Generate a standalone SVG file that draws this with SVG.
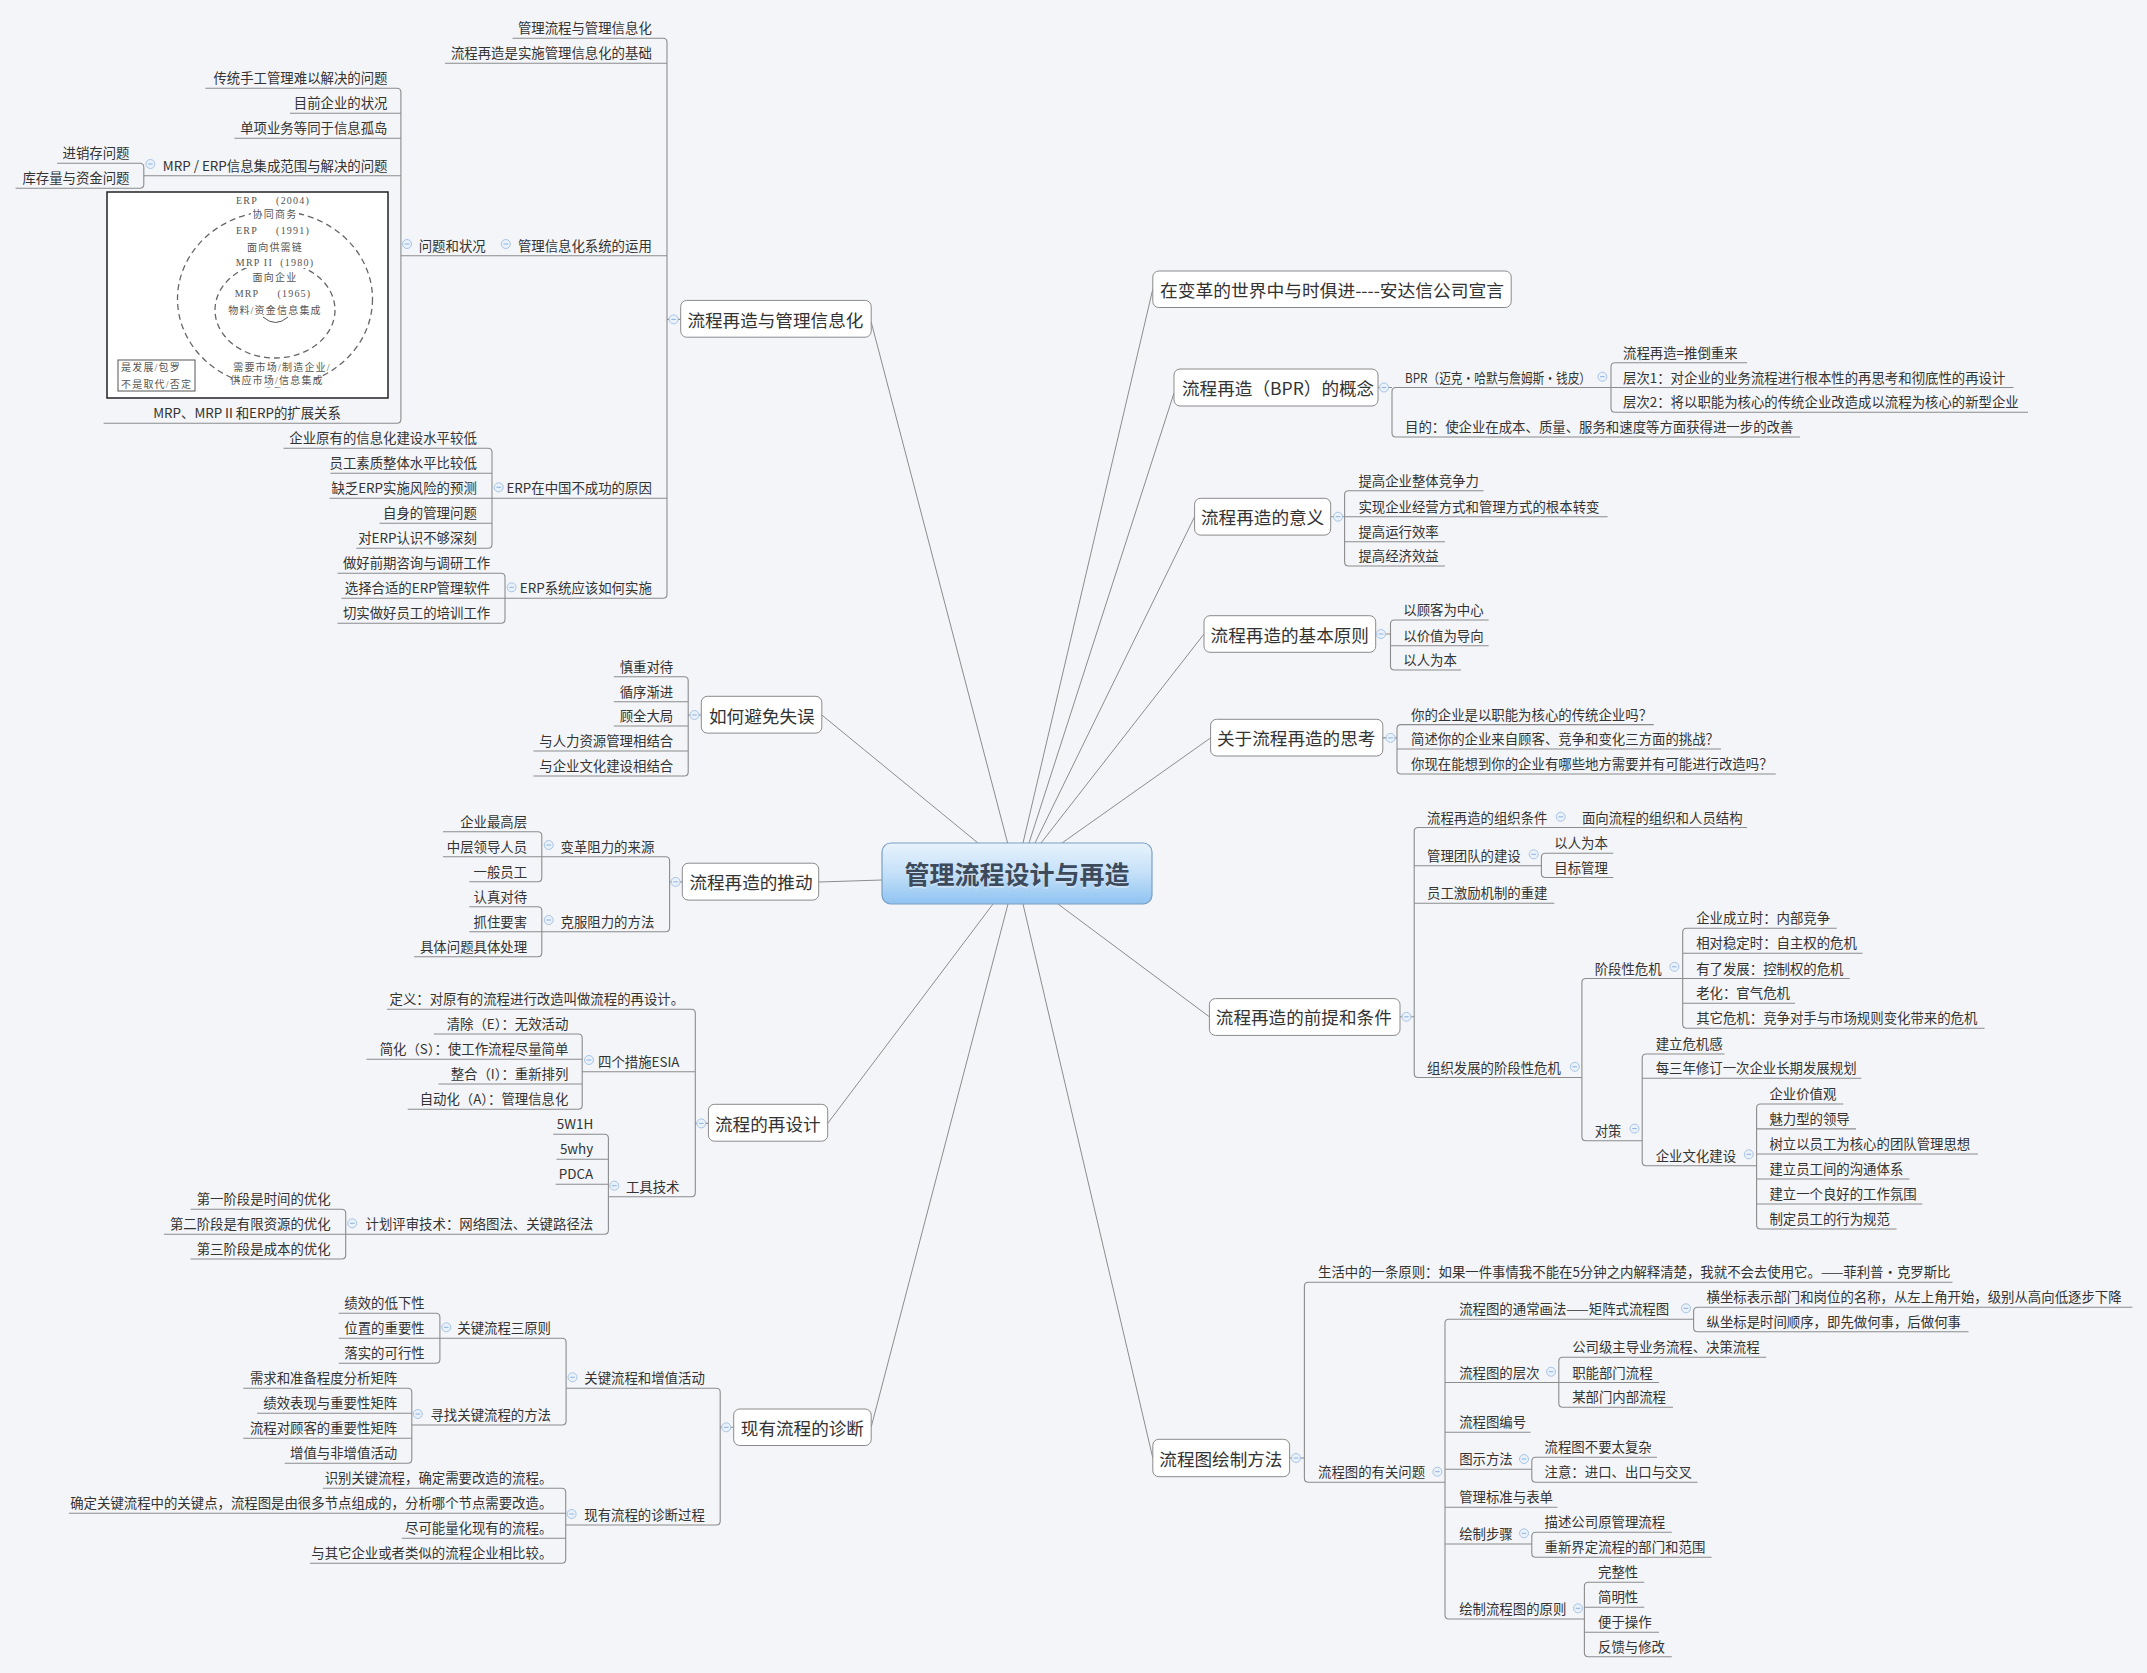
<svg xmlns="http://www.w3.org/2000/svg" xmlns:xlink="http://www.w3.org/1999/xlink" width="2147" height="1673" viewBox="0 0 2147 1673">
<style>
text{font-family:"Noto Sans CJK SC","Liberation Sans",sans-serif;fill:#333;dominant-baseline:central}
.s{font-size:13.4px}
.r{text-anchor:end}
.m{text-anchor:middle}
.b{font-size:17.6px}
.box{fill:#fff;stroke:#8a8a8a;stroke-width:1}
.ln{fill:none;stroke:#8c8c8c;stroke-width:1.1}
.cl{fill:none;stroke:#8c8c8c;stroke-width:1}
.im text{font-family:"Liberation Serif","Noto Sans CJK SC",serif;font-size:10px;fill:#555;white-space:pre;letter-spacing:1.2px}
</style>
<defs>
<linearGradient id="cg" x1="0" y1="0" x2="0" y2="1">
<stop offset="0" stop-color="#e8f3fd"/>
<stop offset="0.5" stop-color="#c4e0f8"/>
<stop offset="1" stop-color="#8fc3f1"/>
</linearGradient>
<g id="tg"><circle r="4.5" fill="#e9f1fb" stroke="#a9c4e4" stroke-width="1"/><path d="M-2.3,0H2.3" stroke="#8fb2dc" stroke-width="1"/></g>
</defs>
<rect width="2147" height="1673" fill="#f3f5f8"/>

<g id="connectors">
<g class="cl">
<path d="M978,843 L821.8,715"/>
<path d="M1007.6,843 L871.2,322"/>
<path d="M1023,843 L1152.8,289"/>
<path d="M1029,843 L1174,393"/>
<path d="M1035,843 L1194.6,516.7"/>
<path d="M1041,843 L1204,634"/>
<path d="M1062,843 L1210.6,737.9"/>
<path d="M882,880 L819,882"/>
<path d="M993,904 L827.7,1123.4"/>
<path d="M1008,904 L871.2,1427"/>
<path d="M1023,904 L1152.8,1458"/>
<path d="M1058,904 L1209.4,1016.8"/>
</g>
<g class="ln">
<path d="M1611,387.5 H1396 Q1392,387.5 1392,391.5 V433 Q1392,437 1396,437 H1800 M1378,387.5 H1392"/>
<path d="M1747,362.7 H1615 Q1611,362.7 1611,366.7 V408.3 Q1611,412.3 1615,412.3 H2028 M1611,387.5 H2013.5"/>
<path d="M1483.6,490.7 H1348.6 Q1344.6,490.7 1344.6,494.7 V562 Q1344.6,566 1348.6,566 H1445 M1330.7,516.7 H1607.6 M1344.6,541.7 H1445"/>
<path d="M1488.7,620 H1394.5 Q1390.5,620 1390.5,624 V666 Q1390.5,670 1394.5,670 H1461 M1390.5,645.7 H1488.7 M1375.7,634 H1390.5"/>
<path d="M1653.8,724.6 H1401 Q1397,724.6 1397,728.6 V770 Q1397,774 1401,774 H1775.8 M1397,749 H1721 M1382.8,737.9 H1397"/>
<path d="M1747,827.5 H1418.2 Q1414.2,827.5 1414.2,831.5 V1073.5 Q1414.2,1077.5 1418.2,1077.5 H1581.9 M1414.2,865.7 H1541.4 M1414.2,903.2 H1554.3 M1400,1016.8 H1414.2"/>
<path d="M1613.3,853.2 H1545.4 Q1541.4,853.2 1541.4,857.2 V873.5 Q1541.4,877.5 1545.4,877.5 H1613.3"/>
<path d="M1682.7,978.5 H1585.9 Q1581.9,978.5 1581.9,982.5 V1136.7 Q1581.9,1140.7 1585.9,1140.7 H1642.2"/>
<path d="M1836.8,928.2 H1686.7 Q1682.7,928.2 1682.7,932.2 V1024.2 Q1682.7,1028.2 1686.7,1028.2 H1984.6 M1682.7,953.2 H1862.5 M1682.7,978.5 H1849.7 M1682.7,1003.2 H1795"/>
<path d="M1724.5,1054 H1646.2 Q1642.2,1054 1642.2,1058 V1161.7 Q1642.2,1165.7 1646.2,1165.7 H1756.6 M1642.2,1078.2 H1861.3"/>
<path d="M1843.3,1104 H1760.6 Q1756.6,1104 1756.6,1108 V1225 Q1756.6,1229 1760.6,1229 H1896.6 M1756.6,1128.9 H1856 M1756.6,1154 H1978 M1756.6,1179 H1909.4 M1756.6,1204 H1922.3"/>
<path d="M1952.5,1282.3 H1308.4 Q1304.4,1282.3 1304.4,1286.3 V1478.3 Q1304.4,1482.3 1308.4,1482.3 H1445 M1289.6,1458 H1304.4"/>
<path d="M1693.6,1319.3 H1449 Q1445,1319.3 1445,1323.3 V1615 Q1445,1619 1449,1619 H1584.4 M1445,1382.5 H1558.8 M1445,1432.3 H1530.5 M1445,1469.3 H1531.8 M1445,1507.3 H1557.5 M1445,1544 H1531.8"/>
<path d="M2132.3,1307.3 H1697.6 Q1693.6,1307.3 1693.6,1311.3 V1327.7 Q1693.6,1331.7 1697.6,1331.7 H1968.5"/>
<path d="M1766.2,1357.3 H1562.8 Q1558.8,1357.3 1558.8,1361.3 V1403.3 Q1558.8,1407.3 1562.8,1407.3 H1673 M1558.8,1382.5 H1659"/>
<path d="M1657,1457.3 H1535.8 Q1531.8,1457.3 1531.8,1461.3 V1478.3 Q1531.8,1482.3 1535.8,1482.3 H1697.5"/>
<path d="M1671.8,1532.3 H1535.8 Q1531.8,1532.3 1531.8,1536.3 V1553.3 Q1531.8,1557.3 1535.8,1557.3 H1711.6"/>
<path d="M1644.2,1582.3 H1588.4 Q1584.4,1582.3 1584.4,1586.3 V1652.7 Q1584.4,1656.7 1588.4,1656.7 H1671.8 M1584.4,1607.3 H1644.2 M1584.4,1632.3 H1659"/>
<path d="M512.5,38.3 H663 Q667,38.3 667,42.3 V594.3 Q667,598.3 663,598.3 H505 M667,63.3 H445 M667,255.7 H400.9 M667,498.3 H492 M680.7,319.4 H667"/>
<path d="M205.4,88.3 H396.9 Q400.9,88.3 400.9,92.3 V419.3 Q400.9,423.3 396.9,423.3 H103.6 M400.9,113.3 H290 M400.9,138.3 H234.4 M400.9,175.7 H143.8"/>
<path d="M57,163.3 H139.8 Q143.8,163.3 143.8,167.3 V184.3 Q143.8,188.3 139.8,188.3 H15.6"/>
<path d="M283.5,448.3 H488 Q492,448.3 492,452.3 V544.3 Q492,548.3 488,548.3 H356.3 M492,473.3 H330.4 M492,498.3 H329.5 M492,523.3 H379.5"/>
<path d="M337.5,573.3 H501 Q505,573.3 505,577.3 V619.3 Q505,623.3 501,623.3 H337.5 M505,598.3 H341.5"/>
<path d="M613.8,676.7 H684.2 Q688.2,676.7 688.2,680.7 V772 Q688.2,776 684.2,776 H533.5 M688.2,701.7 H613.8 M688.2,726 H613.8 M688.2,751 H533.5 M701.3,715 H688.2"/>
<path d="M541.8,856.7 H665.6 Q669.6,856.7 669.6,860.7 V927.7 Q669.6,931.7 665.6,931.7 H541.8 M682.3,881.9 H669.6"/>
<path d="M443,831.7 H537.8 Q541.8,831.7 541.8,835.7 V877.7 Q541.8,881.7 537.8,881.7 H469.2 M541.8,856.7 H443"/>
<path d="M469.2,906.7 H537.8 Q541.8,906.7 541.8,910.7 V952.7 Q541.8,956.7 537.8,956.7 H414.1 M541.8,931.7 H469.2"/>
<path d="M387,1009.3 H691.3 Q695.3,1009.3 695.3,1013.3 V1192.7 Q695.3,1196.7 691.3,1196.7 H608.4 M695.3,1071.7 H582.2 M708.4,1123.4 H695.3"/>
<path d="M433.9,1034 H578.2 Q582.2,1034 582.2,1038 V1105.3 Q582.2,1109.3 578.2,1109.3 H407.7 M582.2,1059.3 H366.4 M582.2,1084 H438.5"/>
<path d="M553.3,1134.3 H604.4 Q608.4,1134.3 608.4,1138.3 V1230.3 Q608.4,1234.3 604.4,1234.3 H345.7 M608.4,1159.3 H556.5 M608.4,1184.3 H555.6"/>
<path d="M190.5,1209.3 H341.7 Q345.7,1209.3 345.7,1213.3 V1255 Q345.7,1259 341.7,1259 H190.5 M345.7,1234.3 H163.9"/>
<path d="M566.1,1388.3 H716.2 Q720.2,1388.3 720.2,1392.3 V1521 Q720.2,1525 716.2,1525 H565.7 M733.7,1427.3 H720.2"/>
<path d="M439.9,1338.3 H562.1 Q566.1,1338.3 566.1,1342.3 V1421 Q566.1,1425 562.1,1425 H411.8"/>
<path d="M338.8,1313.3 H435.9 Q439.9,1313.3 439.9,1317.3 V1359.3 Q439.9,1363.3 435.9,1363.3 H338.8 M439.9,1338.3 H338.8"/>
<path d="M243.3,1388.3 H407.8 Q411.8,1388.3 411.8,1392.3 V1459.3 Q411.8,1463.3 407.8,1463.3 H284.7 M411.8,1413.3 H257.1 M411.8,1438.3 H243.3"/>
<path d="M322.8,1488.3 H561.7 Q565.7,1488.3 565.7,1492.3 V1559.3 Q565.7,1563.3 561.7,1563.3 H309.9 M565.7,1513.3 H68.9 M565.7,1538.3 H401.7"/>
</g>
</g>

<g id="center">
<rect x="882" y="843" width="270" height="61" rx="9" fill="url(#cg)" stroke="#7a9fc4" stroke-width="1.2"/>
<text x="1017" y="874.5" class="m" style="font-size:25px;font-weight:bold;fill:#c9dff3">管理流程设计与再造</text>
<text x="1017" y="873" class="m" style="font-size:25px;font-weight:bold;fill:#3c4a5b">管理流程设计与再造</text>
</g>

<!-- right branches -->
<g id="b-andersen"><rect class="box" x="1152.8" y="271" width="358.4" height="36.5" rx="6"/><text class="b" x="1160" y="289.3" textLength="344" lengthAdjust="spacingAndGlyphs">在变革的世界中与时俱进----安达信公司宣言</text></g>

<g id="b-bpr"><rect class="box" x="1174" y="369" width="204" height="37" rx="6"/><text class="b" x="1182" y="387.5">流程再造（BPR）的概念</text><use href="#tg" x="1384" y="387.5"/></g>
<g id="n-bpr-def"><text class="s" x="1405" y="376.5" textLength="186" lengthAdjust="spacingAndGlyphs">BPR（迈克·哈默与詹姆斯·钱皮）</text><use href="#tg" x="1602.4" y="376.7"/></g>
<g id="n-bpr-1"><text class="s" x="1623" y="351.7">流程再造=推倒重来</text></g>
<g id="n-bpr-2"><text class="s" x="1623" y="376.5">层次1：对企业的业务流程进行根本性的再思考和彻底性的再设计</text></g>
<g id="n-bpr-3"><text class="s" x="1623" y="401.3">层次2：将以职能为核心的传统企业改造成以流程为核心的新型企业</text></g>
<g id="n-bpr-goal"><text class="s" x="1405" y="426">目的：使企业在成本、质量、服务和速度等方面获得进一步的改善</text></g>

<g id="b-meaning"><rect class="box" x="1194.6" y="498.3" width="136.1" height="36.8" rx="6"/><text class="b" x="1201" y="516.7">流程再造的意义</text><use href="#tg" x="1338" y="516.7"/></g>
<g id="n-meaning-1"><text class="s" x="1358.4" y="479.7">提高企业整体竞争力</text></g>
<g id="n-meaning-2"><text class="s" x="1358.4" y="505.7">实现企业经营方式和管理方式的根本转变</text></g>
<g id="n-meaning-3"><text class="s" x="1358.4" y="530.7">提高运行效率</text></g>
<g id="n-meaning-4"><text class="s" x="1358.4" y="555">提高经济效益</text></g>

<g id="b-principle"><rect class="box" x="1204" y="615.7" width="171.7" height="36.6" rx="6"/><text class="b" x="1210.6" y="634">流程再造的基本原则</text><use href="#tg" x="1381" y="634"/></g>
<g id="n-principle-1"><text class="s" x="1403.3" y="609">以顾客为中心</text></g>
<g id="n-principle-2"><text class="s" x="1403.3" y="634.7">以价值为导向</text></g>
<g id="n-principle-3"><text class="s" x="1403.3" y="659">以人为本</text></g>

<g id="b-think"><rect class="box" x="1210.6" y="719.3" width="172.2" height="36.7" rx="6"/><text class="b" x="1217" y="737.9">关于流程再造的思考</text><use href="#tg" x="1390.5" y="737.9"/></g>
<g id="n-think-1"><text class="s" x="1411" y="713.6">你的企业是以职能为核心的传统企业吗？</text></g>
<g id="n-think-2"><text class="s" x="1411" y="738">简述你的企业来自顾客、竞争和变化三方面的挑战？</text></g>
<g id="n-think-3"><text class="s" x="1411" y="763">你现在能想到你的企业有哪些地方需要并有可能进行改造吗？</text></g>

<g id="b-premise"><rect class="box" x="1209.4" y="998.6" width="190.6" height="36.8" rx="6"/><text class="b" x="1215.8" y="1016.8">流程再造的前提和条件</text><use href="#tg" x="1406.5" y="1016.8"/></g>
<g id="n-org"><text class="s" x="1427" y="816.5">流程再造的组织条件</text><use href="#tg" x="1560.7" y="816.8"/></g>
<g id="n-org-1"><text class="s" x="1581.9" y="816.5">面向流程的组织和人员结构</text></g>
<g id="n-team"><text class="s" x="1427" y="854.7">管理团队的建设</text><use href="#tg" x="1533.7" y="854.3"/></g>
<g id="n-team-1"><text class="s" x="1554.3" y="842.2">以人为本</text></g>
<g id="n-team-2"><text class="s" x="1554.3" y="866.5">目标管理</text></g>
<g id="n-incent"><text class="s" x="1427" y="892.2">员工激励机制的重建</text></g>
<g id="n-crisis"><text class="s" x="1427" y="1066.5">组织发展的阶段性危机</text><use href="#tg" x="1574.8" y="1066.8"/></g>
<g id="n-stage"><text class="s" x="1594.7" y="967.5">阶段性危机</text><use href="#tg" x="1674.4" y="966.8"/></g>
<g id="n-stage-1"><text class="s" x="1696.2" y="917.2">企业成立时：内部竞争</text></g>
<g id="n-stage-2"><text class="s" x="1696.2" y="942.2">相对稳定时：自主权的危机</text></g>
<g id="n-stage-3"><text class="s" x="1696.2" y="967.5">有了发展：控制权的危机</text></g>
<g id="n-stage-4"><text class="s" x="1696.2" y="992.2">老化：官气危机</text></g>
<g id="n-stage-5"><text class="s" x="1696.2" y="1017.2">其它危机：竞争对手与市场规则变化带来的危机</text></g>
<g id="n-measure"><text class="s" x="1594.7" y="1129.7">对策</text><use href="#tg" x="1634.5" y="1128.6"/></g>
<g id="n-measure-1"><text class="s" x="1655.7" y="1043">建立危机感</text></g>
<g id="n-measure-2"><text class="s" x="1655.7" y="1067.2">每三年修订一次企业长期发展规划</text></g>
<g id="n-culture"><text class="s" x="1655.7" y="1154.7">企业文化建设</text><use href="#tg" x="1748.8" y="1154.3"/></g>
<g id="n-culture-1"><text class="s" x="1769.4" y="1093">企业价值观</text></g>
<g id="n-culture-2"><text class="s" x="1769.4" y="1117.9">魅力型的领导</text></g>
<g id="n-culture-3"><text class="s" x="1769.4" y="1143">树立以员工为核心的团队管理思想</text></g>
<g id="n-culture-4"><text class="s" x="1769.4" y="1168">建立员工间的沟通体系</text></g>
<g id="n-culture-5"><text class="s" x="1769.4" y="1193">建立一个良好的工作氛围</text></g>
<g id="n-culture-6"><text class="s" x="1769.4" y="1218">制定员工的行为规范</text></g>

<g id="b-drawing"><rect class="box" x="1152.8" y="1439.3" width="136.8" height="37.4" rx="6"/><text class="b" x="1159.3" y="1458.3">流程图绘制方法</text><use href="#tg" x="1296" y="1458"/></g>
<g id="n-quote"><text class="s" x="1318" y="1271.3">生活中的一条原则：如果一件事情我不能在5分钟之内解释清楚，我就不会去使用它。——菲利普·克罗斯比</text></g>
<g id="n-issues"><text class="s" x="1318" y="1471.3">流程图的有关问题</text><use href="#tg" x="1437.4" y="1471.7"/></g>
<g id="n-matrix"><text class="s" x="1459.2" y="1308.3">流程图的通常画法——矩阵式流程图</text><use href="#tg" x="1686" y="1308.3"/></g>
<g id="n-matrix-1"><text class="s" x="1706.5" y="1296.3">横坐标表示部门和岗位的名称，从左上角开始，级别从高向低逐步下降</text></g>
<g id="n-matrix-2"><text class="s" x="1706.5" y="1320.7">纵坐标是时间顺序，即先做何事，后做何事</text></g>
<g id="n-level"><text class="s" x="1459.2" y="1371.5">流程图的层次</text><use href="#tg" x="1551" y="1371.7"/></g>
<g id="n-level-1"><text class="s" x="1572.2" y="1346.3">公司级主导业务流程、决策流程</text></g>
<g id="n-level-2"><text class="s" x="1572.2" y="1371.5">职能部门流程</text></g>
<g id="n-level-3"><text class="s" x="1572.2" y="1396.3">某部门内部流程</text></g>
<g id="n-number"><text class="s" x="1459.2" y="1421.3">流程图编号</text></g>
<g id="n-show"><text class="s" x="1459.2" y="1458.3">图示方法</text><use href="#tg" x="1524" y="1459"/></g>
<g id="n-show-1"><text class="s" x="1544.6" y="1446.3">流程图不要太复杂</text></g>
<g id="n-show-2"><text class="s" x="1544.6" y="1471.3">注意：进口、出口与交叉</text></g>
<g id="n-std"><text class="s" x="1459.2" y="1496.3">管理标准与表单</text></g>
<g id="n-steps"><text class="s" x="1459.2" y="1533">绘制步骤</text><use href="#tg" x="1524" y="1533.3"/></g>
<g id="n-steps-1"><text class="s" x="1544.6" y="1521.3">描述公司原管理流程</text></g>
<g id="n-steps-2"><text class="s" x="1544.6" y="1546.3">重新界定流程的部门和范围</text></g>
<g id="n-rules"><text class="s" x="1459.2" y="1608">绘制流程图的原则</text><use href="#tg" x="1578" y="1608.3"/></g>
<g id="n-rules-1"><text class="s" x="1598" y="1571.3">完整性</text></g>
<g id="n-rules-2"><text class="s" x="1598" y="1596.3">简明性</text></g>
<g id="n-rules-3"><text class="s" x="1598" y="1621.3">便于操作</text></g>
<g id="n-rules-4"><text class="s" x="1598" y="1645.7">反馈与修改</text></g>

<!-- left branches -->
<g id="b-info"><rect class="box" x="680.7" y="300.4" width="190.5" height="36.8" rx="6"/><text class="b" x="687.4" y="319">流程再造与管理信息化</text><use href="#tg" x="673.6" y="319.4"/></g>
<g id="n-info-1"><text class="s r" x="651.8" y="27.3">管理流程与管理信息化</text></g>
<g id="n-info-2"><text class="s r" x="651.8" y="52.3">流程再造是实施管理信息化的基础</text></g>
<g id="n-mis"><text class="s r" x="651.8" y="244.7">管理信息化系统的运用</text><use href="#tg" x="505.8" y="244"/></g>
<g id="n-problem"><text class="s r" x="485.7" y="244.7">问题和状况</text><use href="#tg" x="407" y="244"/></g>
<g id="n-problem-1"><text class="s r" x="387.5" y="77.3">传统手工管理难以解决的问题</text></g>
<g id="n-problem-2"><text class="s r" x="387.5" y="102.3">目前企业的状况</text></g>
<g id="n-problem-3"><text class="s r" x="387.5" y="127.3">单项业务等同于信息孤岛</text></g>
<g id="n-mrp"><text class="s r" x="387.5" y="164.7">MRP / ERP信息集成范围与解决的问题</text><use href="#tg" x="150.4" y="164"/></g>
<g id="n-mrp-1"><text class="s r" x="129.5" y="152.3">进销存问题</text></g>
<g id="n-mrp-2"><text class="s r" x="129.5" y="177.3">库存量与资金问题</text></g>
<g id="n-erp-image">
<g class="im">
<rect x="107" y="192" width="281" height="206" fill="#fff" stroke="#222" stroke-width="1.5"/>
<ellipse cx="275" cy="299" rx="97.5" ry="88" fill="none" stroke="#666" stroke-width="1.3" stroke-dasharray="6 4"/>
<ellipse cx="275" cy="310" rx="60" ry="48" fill="none" stroke="#666" stroke-width="1.3" stroke-dasharray="6 4"/>
<rect x="251" y="207" width="48" height="14" fill="#fff"/>
<rect x="240" y="256" width="72" height="12" fill="#fff"/>
<rect x="240" y="373" width="74" height="14" fill="#fff"/>
<text x="273" y="200" class="m">ERP     (2004)</text>
<text x="275" y="214" class="m">协同商务</text>
<text x="273" y="230" class="m">ERP     (1991)</text>
<text x="275" y="247" class="m">面向供需链</text>
<text x="275" y="262" class="m">MRP II  (1980)</text>
<text x="275" y="277" class="m">面向企业</text>
<text x="273" y="293" class="m">MRP     (1965)</text>
<text x="275" y="310" class="m">物料/资金信息集成</text>
<path d="M263,317 Q275.5,328 288,317" fill="none" stroke="#555" stroke-width="1"/>
<text x="282" y="367" class="m">需要市场/制造企业/</text>
<text x="277" y="380" class="m">供应市场/信息集成</text>
<rect x="118" y="360" width="77" height="31" fill="#fff" stroke="#555" stroke-width="1"/>
<text x="121" y="367">是发展/包罗</text>
<text x="121" y="384">不是取代/否定</text>
</g>
<text class="s m" x="247" y="412.3">MRP、MRPⅡ和ERP的扩展关系</text>
</g>
<g id="n-fail"><text class="s r" x="651.8" y="487.3">ERP在中国不成功的原因</text><use href="#tg" x="498.7" y="487.3"/></g>
<g id="n-fail-1"><text class="s r" x="476.8" y="437.3">企业原有的信息化建设水平较低</text></g>
<g id="n-fail-2"><text class="s r" x="476.8" y="462.3">员工素质整体水平比较低</text></g>
<g id="n-fail-3"><text class="s r" x="476.8" y="487.3">缺乏ERP实施风险的预测</text></g>
<g id="n-fail-4"><text class="s r" x="476.8" y="512.3">自身的管理问题</text></g>
<g id="n-fail-5"><text class="s r" x="476.8" y="537.3">对ERP认识不够深刻</text></g>
<g id="n-impl"><text class="s r" x="651.8" y="587.3">ERP系统应该如何实施</text><use href="#tg" x="511.6" y="587.3"/></g>
<g id="n-impl-1"><text class="s r" x="490.2" y="562.3">做好前期咨询与调研工作</text></g>
<g id="n-impl-2"><text class="s r" x="490.2" y="587.3">选择合适的ERP管理软件</text></g>
<g id="n-impl-3"><text class="s r" x="490.2" y="612.3">切实做好员工的培训工作</text></g>

<g id="b-avoid"><rect class="box" x="701.3" y="696.3" width="120.5" height="36.8" rx="6"/><text class="b" x="709" y="715">如何避免失误</text><use href="#tg" x="694.5" y="715"/></g>
<g id="n-avoid-1"><text class="s r" x="673.2" y="665.7">慎重对待</text></g>
<g id="n-avoid-2"><text class="s r" x="673.2" y="690.7">循序渐进</text></g>
<g id="n-avoid-3"><text class="s r" x="673.2" y="715">顾全大局</text></g>
<g id="n-avoid-4"><text class="s r" x="673.2" y="740">与人力资源管理相结合</text></g>
<g id="n-avoid-5"><text class="s r" x="673.2" y="765">与企业文化建设相结合</text></g>

<g id="b-push"><rect class="box" x="682.3" y="863.2" width="136.4" height="36.9" rx="6"/><text class="b" x="689.4" y="881.9">流程再造的推动</text><use href="#tg" x="675.6" y="881.9"/></g>
<g id="n-resist"><text class="s r" x="654.3" y="845.7">变革阻力的来源</text><use href="#tg" x="548.7" y="845"/></g>
<g id="n-resist-1"><text class="s r" x="527.1" y="820.7">企业最高层</text></g>
<g id="n-resist-2"><text class="s r" x="527.1" y="845.7">中层领导人员</text></g>
<g id="n-resist-3"><text class="s r" x="527.1" y="870.7">一般员工</text></g>
<g id="n-overcome"><text class="s r" x="654.3" y="920.7">克服阻力的方法</text><use href="#tg" x="548.7" y="920"/></g>
<g id="n-overcome-1"><text class="s r" x="527.1" y="895.7">认真对待</text></g>
<g id="n-overcome-2"><text class="s r" x="527.1" y="920.7">抓住要害</text></g>
<g id="n-overcome-3"><text class="s r" x="527.1" y="945.7">具体问题具体处理</text></g>

<g id="b-redesign"><rect class="box" x="708.4" y="1104.3" width="119.3" height="36.9" rx="6"/><text class="b" x="715" y="1123.4">流程的再设计</text><use href="#tg" x="701.3" y="1123.4"/></g>
<g id="n-def"><text class="s r" x="684.1" y="998.3">定义：对原有的流程进行改造叫做流程的再设计。</text></g>
<g id="n-esia"><text class="s r" x="679.5" y="1060.7">四个措施ESIA</text><use href="#tg" x="589" y="1060"/></g>
<g id="n-esia-1"><text class="s r" x="568.4" y="1023">清除（E）：无效活动</text></g>
<g id="n-esia-2"><text class="s r" x="568.4" y="1048.3">简化（S）：使工作流程尽量简单</text></g>
<g id="n-esia-3"><text class="s r" x="568.4" y="1073">整合（I）：重新排列</text></g>
<g id="n-esia-4"><text class="s r" x="568.4" y="1098.3">自动化（A）：管理信息化</text></g>
<g id="n-tools"><text class="s r" x="679.5" y="1185.7">工具技术</text><use href="#tg" x="614.3" y="1185.7"/></g>
<g id="n-tools-1"><text class="s r" x="593.2" y="1123.3">5W1H</text></g>
<g id="n-tools-2"><text class="s r" x="593.2" y="1148.3">5why</text></g>
<g id="n-tools-3"><text class="s r" x="593.2" y="1173.3">PDCA</text></g>
<g id="n-pert"><text class="s r" x="593.2" y="1223.3">计划评审技术：网络图法、关键路径法</text><use href="#tg" x="352.2" y="1223.3"/></g>
<g id="n-pert-1"><text class="s r" x="330.6" y="1198.3">第一阶段是时间的优化</text></g>
<g id="n-pert-2"><text class="s r" x="330.6" y="1223.3">第二阶段是有限资源的优化</text></g>
<g id="n-pert-3"><text class="s r" x="330.6" y="1248">第三阶段是成本的优化</text></g>

<g id="b-diagnose"><rect class="box" x="733.7" y="1409" width="137.5" height="36.5" rx="6"/><text class="b" x="740.8" y="1427.3">现有流程的诊断</text><use href="#tg" x="726.2" y="1427.3"/></g>
<g id="n-key"><text class="s r" x="704.8" y="1377.3">关键流程和增值活动</text><use href="#tg" x="572.5" y="1377.3"/></g>
<g id="n-three"><text class="s r" x="551" y="1327.3">关键流程三原则</text><use href="#tg" x="446.3" y="1327.3"/></g>
<g id="n-three-1"><text class="s r" x="424.7" y="1302.3">绩效的低下性</text></g>
<g id="n-three-2"><text class="s r" x="424.7" y="1327.3">位置的重要性</text></g>
<g id="n-three-3"><text class="s r" x="424.7" y="1352.3">落实的可行性</text></g>
<g id="n-find"><text class="s r" x="551" y="1414">寻找关键流程的方法</text><use href="#tg" x="417.8" y="1414"/></g>
<g id="n-find-1"><text class="s r" x="397.2" y="1377.3">需求和准备程度分析矩阵</text></g>
<g id="n-find-2"><text class="s r" x="397.2" y="1402.3">绩效表现与重要性矩阵</text></g>
<g id="n-find-3"><text class="s r" x="397.2" y="1427.3">流程对顾客的重要性矩阵</text></g>
<g id="n-find-4"><text class="s r" x="397.2" y="1452.3">增值与非增值活动</text></g>
<g id="n-process"><text class="s r" x="704.8" y="1514">现有流程的诊断过程</text><use href="#tg" x="571.6" y="1514"/></g>
<g id="n-process-1"><text class="s r" x="552.3" y="1477.3">识别关键流程，确定需要改造的流程。</text></g>
<g id="n-process-2"><text class="s r" x="552.3" y="1502.3">确定关键流程中的关键点，流程图是由很多节点组成的，分析哪个节点需要改造。</text></g>
<g id="n-process-3"><text class="s r" x="552.3" y="1527.3">尽可能量化现有的流程。</text></g>
<g id="n-process-4"><text class="s r" x="552.3" y="1552.3">与其它企业或者类似的流程企业相比较。</text></g>
</svg>
